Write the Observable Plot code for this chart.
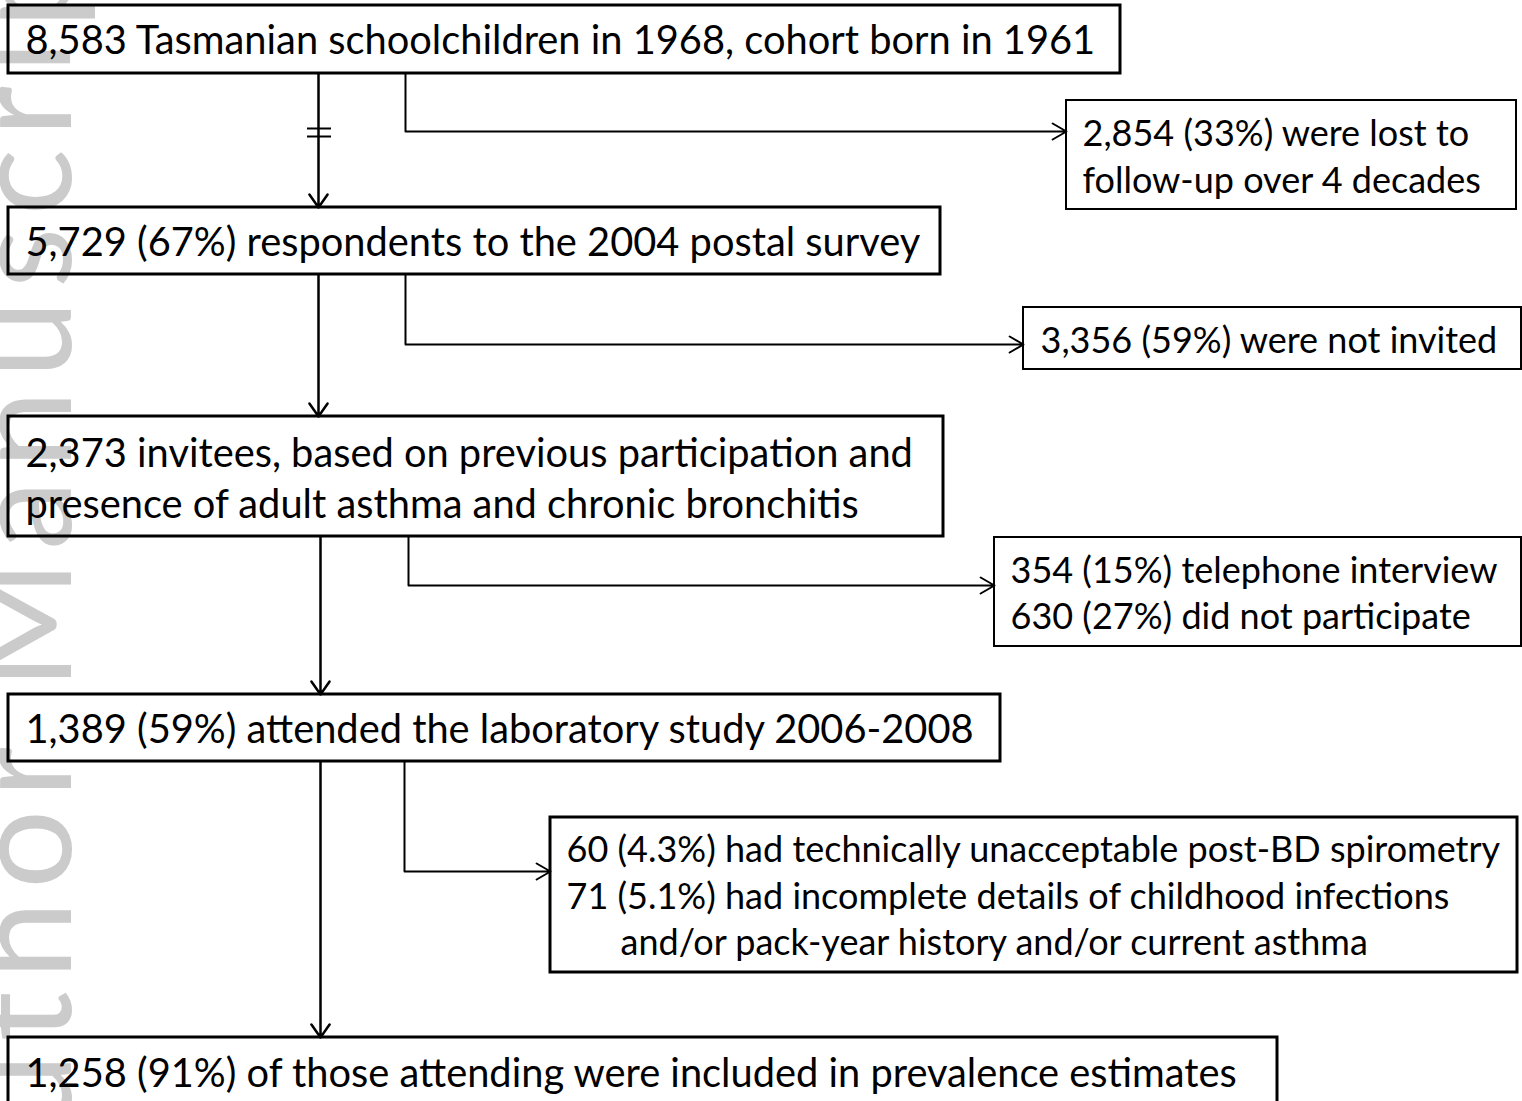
<!DOCTYPE html>
<html>
<head>
<meta charset="utf-8">
<script src="https://cdn.jsdelivr.net/npm/d3@7"></script>
<script src="https://cdn.jsdelivr.net/npm/@observablehq/plot@0.6"></script>
<style>
  html, body { margin: 0; padding: 0; background: white; overflow: hidden; }
  #chart svg { display: block; }
</style>
</head>
<body>
<div id="chart"></div>
<script>
// ---- content ----
const mainLabels = [
  ["8,583 Tasmanian schoolchildren in 1968, cohort born in 1961"],
  ["5,729 (67%) respondents to the 2004 postal survey"],
  ["2,373 invitees, based on previous participation and", "presence of adult asthma and chronic bronchitis"],
  ["1,389 (59%) attended the laboratory study 2006-2008"],
  ["1,258 (91%) of those attending were included in prevalence estimates"]
];
const sideLabels = [
  ["2,854 (33%) were lost to", "follow-up over 4 decades"],
  ["3,356 (59%) were not invited"],
  ["354 (15%) telephone interview", "630 (27%) did not participate"],
  ["60 (4.3%) had technically unacceptable post-BD spirometry",
   "71 (5.1%) had incomplete details of childhood infections",
   "and/or pack-year history and/or current asthma"]
];
const watermark = "Author Manuscript";

// ---- layout (pixels) ----
const mainBoxes = [
  {x1: 8, x2: 1120, y1: 5, y2: 73, tx: 25, base: [53]},
  {x1: 8, x2: 940, y1: 207, y2: 274, tx: 25, base: [255]},
  {x1: 8, x2: 943, y1: 416, y2: 536, tx: 25, base: [466, 517]},
  {x1: 8, x2: 1000, y1: 694, y2: 761, tx: 25, base: [742]},
  {x1: 8, x2: 1277, y1: 1037, y2: 1120, tx: 25, base: [1086]}
];
const sideBoxes = [
  {x1: 1066, x2: 1516, y1: 100, y2: 209, tx: [1082, 1082], base: [145, 192], sw: 2},
  {x1: 1023, x2: 1521, y1: 307, y2: 369, tx: [1040], base: [352], sw: 2},
  {x1: 994, x2: 1521, y1: 537, y2: 646, tx: [1010, 1010], base: [582, 628], sw: 2},
  {x1: 550, x2: 1517, y1: 817, y2: 972, tx: [566, 566, 620], base: [861, 908, 954], sw: 3}
];
const mainArrowX = [318, 318, 320, 320];
const branchX = [405, 405, 408, 404];
const branchY = [131, 344, 585, 871];
const breakTicksY = [128, 136];

// ---- derived tables ----
const mainRows = [];
mainLabels.forEach((lines, i) => lines.forEach((t, j) =>
  mainRows.push({text: t, x: mainBoxes[i].tx, y: mainBoxes[i].base[j]})));
const sideRows = [];
sideLabels.forEach((lines, i) => lines.forEach((t, j) =>
  sideRows.push({text: t, x: sideBoxes[i].tx[j], y: sideBoxes[i].base[j]})));

const mainArrows = mainArrowX.map((x, i) => ({x, y1: mainBoxes[i].y2, y2: mainBoxes[i + 1].y1}));
const branchV = branchX.map((x, i) => ({x, y1: mainBoxes[i].y2, y2: branchY[i]}));
const branchH = branchX.map((x, i) => ({x1: x, x2: sideBoxes[i].x1, y: branchY[i]}));

const font = "Lato, 'Open Sans', sans-serif";

const plot = Plot.plot({
  width: 1522,
  height: 1101,
  margin: 0,
  x: {domain: [0, 1522], range: [0, 1522], axis: null},
  y: {domain: [0, 1101], range: [0, 1101], axis: null},
  style: {background: "white", overflow: "hidden"},
  marks: [
    Plot.text([watermark], {
      x: () => 70, y: () => 1236, text: d => d, rotate: -90,
      textAnchor: "start", lineAnchor: "bottom",
      fontSize: 140, fill: "#cbcbcb", fontFamily: font
    }),
    Plot.rect(mainBoxes, {x1: "x1", x2: "x2", y1: "y1", y2: "y2", fill: "none", stroke: "black", strokeWidth: 3}),
    Plot.rect(sideBoxes, {x1: "x1", x2: "x2", y1: "y1", y2: "y2", fill: "none", stroke: "black", strokeWidth: d => d.sw}),
    Plot.arrow(mainArrows, {x1: "x", x2: "x", y1: "y1", y2: "y2", stroke: "black", strokeWidth: 2.5, headLength: 9.5, headAngle: 70}),
    Plot.ruleX(branchV, {x: "x", y1: "y1", y2: "y2", stroke: "black", strokeWidth: 2}),
    Plot.arrow(branchH, {x1: "x1", x2: "x2", y1: "y", y2: "y", stroke: "black", strokeWidth: 2, headLength: 12, headAngle: 60}),
    Plot.ruleY(breakTicksY, {y: d => d, x1: () => 307, x2: () => 331, stroke: "black", strokeWidth: 2}),
    Plot.text(mainRows, {x: "x", y: "y", text: "text", textAnchor: "start", lineAnchor: "bottom",
      fontSize: 39.8, fill: "black", fontFamily: font}),
    Plot.text(sideRows, {x: "x", y: "y", text: "text", textAnchor: "start", lineAnchor: "bottom",
      fontSize: 36, fill: "black", fontFamily: font})
  ]
});

plot.querySelectorAll("text").forEach(t => {
  if (t.textContent === watermark) t.style.letterSpacing = "12px";
});
document.getElementById("chart").appendChild(plot);
</script>
</body>
</html>
